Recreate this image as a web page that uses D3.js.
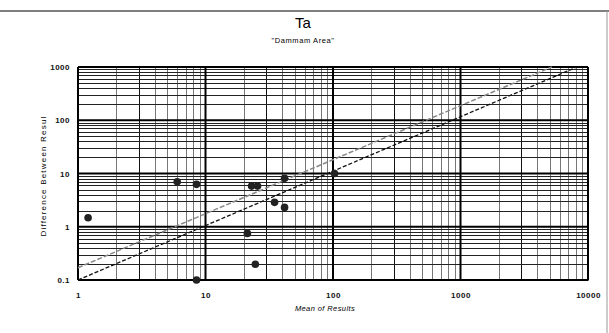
<!DOCTYPE html>
<html><head><meta charset="utf-8">
<script src="https://cdn.jsdelivr.net/npm/d3@7"></script>
<style>body{margin:0;background:#fff}svg{display:block;font-family:"Liberation Sans",Arial,sans-serif}</style>
</head><body><svg id="c" width="609" height="333"></svg>
<script>
const title = "Ta";
const subtitle = "\"Dammam Area\"";
const xLabel = "Mean of Results";
const yLabel = "Difference Between Resul";
const xTicks = [1, 10, 100, 1000, 10000];
const xTickLabels = ["1", "10", "100", "1000", "10000"];
const yTicks = [0.1, 1, 10, 100, 1000];
const yTickLabels = ["0.1", "1", "10", "100", "1000"];
// scatter points: mean of results, difference
const pointX = [1.2, 6.0, 8.5, 8.5, 23, 25.6, 21.3, 24.6, 34.8, 41.7, 41.7, 102.8];
const pointY = [1.48, 7.0, 6.25, 0.1, 5.8, 5.8, 0.75, 0.197, 2.87, 2.31, 8.1, 10.0];
// reference lines (endpoints)
const lineBlackX = [1, 8200];
const lineBlackY = [0.1, 1000];
const lineGrayX = [1, 5200];
const lineGrayY = [0.17, 1000];

const svg = d3.select("#c");
const x = d3.scaleLog().domain([1, 10000]).range([78, 588]);
const y = d3.scaleLog().domain([0.1, 1000]).range([280, 67]);

// frame
svg.append("line").attr("x1",0).attr("x2",609).attr("y1",11).attr("y2",11).attr("stroke","#555").attr("stroke-width",1.5);
svg.append("line").attr("x1",607).attr("x2",607).attr("y1",11).attr("y2",333).attr("stroke","#999").attr("stroke-width",1);

svg.append("text").attr("x",303).attr("y",28).attr("text-anchor","middle").attr("font-size",15).text(title);
svg.append("text").attr("x",303).attr("y",43).attr("text-anchor","middle").attr("font-size",7.5).attr("letter-spacing",0.6).text(subtitle);

const g = svg.append("g");
const minorX = [], minorY = [];
for (let e = 0; e < 4; e++) for (let k = 2; k <= 9; k++) minorX.push(k * Math.pow(10, e));
for (let e = -1; e < 3; e++) for (let k = 2; k <= 9; k++) minorY.push(k * Math.pow(10, e));

g.selectAll(".vx").data(minorX).enter().append("line")
  .attr("x1", d=>Math.round(x(d))+0.5).attr("x2", d=>Math.round(x(d))+0.5)
  .attr("y1", y(0.1)).attr("y2", y(1000))
  .attr("stroke", (d,i)=> (i%8===1) ? "#111" : "#777").attr("stroke-width", 1);
g.selectAll(".hy").data(minorY).enter().append("line")
  .attr("y1", d=>Math.round(y(d))+0.5).attr("y2", d=>Math.round(y(d))+0.5)
  .attr("x1", x(1)).attr("x2", x(10000))
  .attr("stroke", "#222").attr("stroke-width", 1);
g.selectAll(".mx").data(xTicks).enter().append("line")
  .attr("x1", d=>x(d)).attr("x2", d=>x(d)).attr("y1", y(0.1)).attr("y2", y(1000))
  .attr("stroke", "#000").attr("stroke-width", 2);
g.selectAll(".my").data(yTicks).enter().append("line")
  .attr("y1", d=>y(d)).attr("y2", d=>y(d)).attr("x1", x(1)).attr("x2", x(10000))
  .attr("stroke", "#000").attr("stroke-width", 2);

// axes
const xa = svg.append("g").attr("transform","translate(0,280)")
  .call(d3.axisBottom(x).tickValues(xTicks).tickFormat((d,i)=>xTickLabels[i]).tickSize(0).tickPadding(12));
const ya = svg.append("g").attr("transform","translate(78,0)")
  .call(d3.axisLeft(y).tickValues(yTicks).tickFormat((d,i)=>yTickLabels[i]).tickSize(0).tickPadding(8));
[xa, ya].forEach(a => { a.select(".domain").attr("stroke","#000"); a.selectAll("text").attr("font-size",8).attr("font-family","Liberation Sans, Arial").attr("font-weight","bold").attr("letter-spacing",0.5).attr("fill","#111"); });

// reference lines
const line = d3.line().x(d=>x(d[0])).y(d=>y(d[1]));
svg.append("path").datum(lineGrayX.map((v,i)=>[v,lineGrayY[i]])).attr("d", line)
  .attr("fill","none").attr("stroke","#888").attr("stroke-width",1.5).attr("stroke-dasharray","5,2");
svg.append("path").datum(lineBlackX.map((v,i)=>[v,lineBlackY[i]])).attr("d", line)
  .attr("fill","none").attr("stroke","#111").attr("stroke-width",1.3).attr("stroke-dasharray","4,2");

// points
svg.selectAll(".pt").data(pointX.map((v,i)=>[v,pointY[i]])).enter().append("circle")
  .attr("cx", d=>x(d[0])).attr("cy", d=>y(d[1])).attr("r", 3.8).attr("fill","#222");

svg.append("text").attr("x",325).attr("y",311).attr("text-anchor","middle").attr("font-size",7.5).attr("letter-spacing",0.4).attr("font-style","italic").text(xLabel);
svg.append("text").attr("transform","translate(46,176) rotate(-90)").attr("text-anchor","middle").attr("font-size",8).attr("letter-spacing",1.2).text(yLabel);
</script></body></html>
